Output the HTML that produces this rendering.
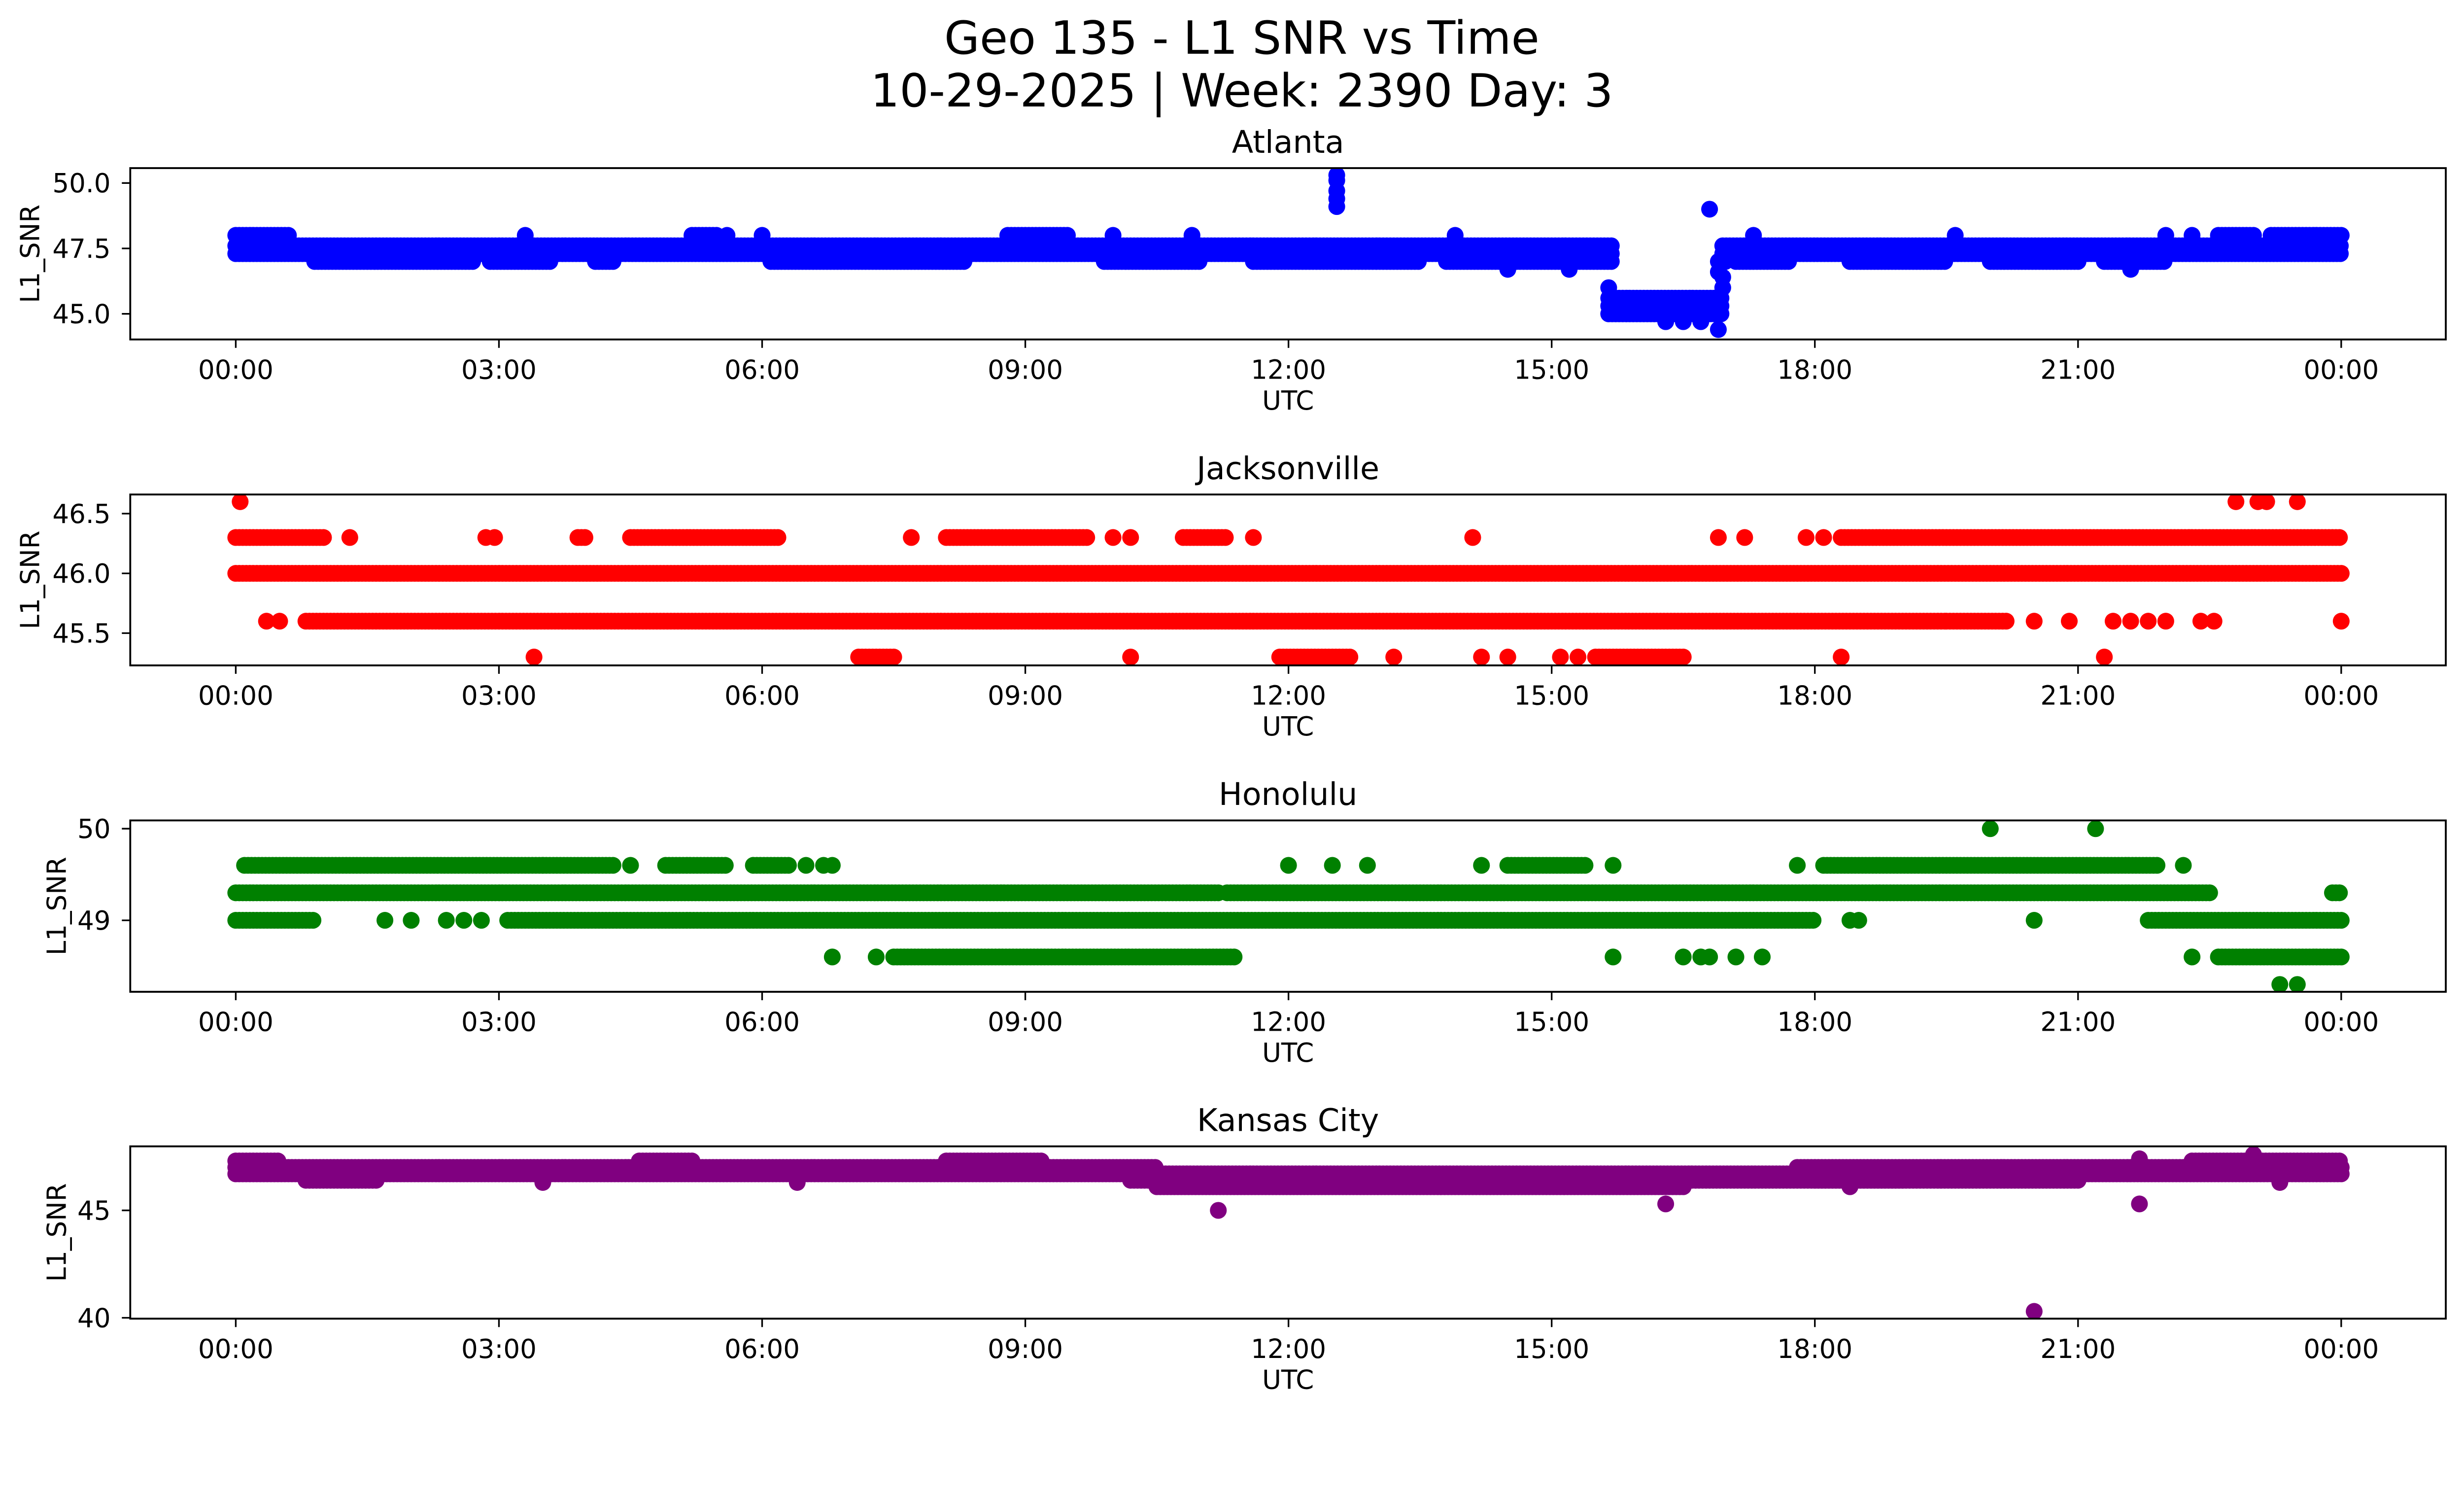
<!DOCTYPE html>
<html><head><meta charset="utf-8"><style>
html,body{margin:0;padding:0;background:#fff;overflow:hidden;}
svg{display:block;width:100vw;height:auto;font-family:"DejaVu Sans","Liberation Sans",sans-serif;}
</style></head><body>
<svg id="fig" viewBox="0 0 5278 3033" xmlns="http://www.w3.org/2000/svg">
<rect width="5278" height="3033" fill="#fff"/>
<text x="2660" y="115" font-size="98" text-anchor="middle">Geo 135 - L1 SNR vs Time</text>
<text x="2660" y="228" font-size="98" text-anchor="middle">10-29-2025 | Week: 2390 Day: 3</text>
<g id="plots"></g>
</svg>
<script>
// ---------- data: x tick labels ----------
const xTickHours = [0,3,6,9,12,15,18,21,24];
const xTickLabels = ["00:00","03:00","06:00","09:00","12:00","15:00","18:00","21:00","00:00"];

// ---------- Atlanta ----------
const atlRunLevel = [47.6,47.3,47.6,47.3,47.0,47.0,47.0,47.0,47.0,47.0,47.0,47.0,47.0,47.0,47.0,48.0,48.0,48.0,48.0,48.0,45.6,45.3,45.0,47.0];
const atlRunStart = [0.0,0.0,16.95,16.95,0.9,2.9,4.1,6.1,9.9,11.6,13.8,17.1,18.4,20.0,21.3,0.0,5.2,8.8,22.6,23.2,15.65,15.65,15.65,16.9];
const atlRunEnd   = [15.7,15.7,24.0,24.0,2.7,3.6,4.3,8.3,11.0,13.5,15.7,17.7,19.5,21.0,22.0,0.6,5.5,9.5,23.0,24.0,16.95,16.95,16.95,17.0];
const atlPtX = [12.55,12.55,12.55,12.55,12.55,16.8,16.9,14.5,15.2,21.6,15.65,16.3,16.5,16.7,16.9,3.3,5.6,6.0,10.0,10.9,13.9,19.6,22.0,22.3,17.3,16.95,16.95];
const atlPtY = [50.3,50.1,49.7,49.4,49.1,49.0,44.4,46.7,46.7,46.7,46.0,44.7,44.7,44.7,46.6,48.0,48.0,48.0,48.0,48.0,48.0,48.0,48.0,48.0,48.0,46.0,46.4];

// ---------- Jacksonville ----------
const jaxRunLevel = [46.0,45.6,45.6,46.3,46.3,46.3,46.3,46.3,46.3,45.3,45.3,45.3];
const jaxRunStart = [0.0,0.8,19.5,0.0,4.5,8.1,10.8,18.3,3.9,11.9,15.5,7.1];
const jaxRunEnd   = [24.0,19.5,20.2,1.0,6.2,9.7,11.3,24.0,4.0,12.7,16.5,7.5];
const jaxPtX = [0.05,22.8,23.05,23.15,23.5,1.3,2.85,2.95,7.7,10.0,10.2,11.6,14.1,16.9,17.2,17.9,18.1,0.35,0.5,20.5,20.9,21.4,21.6,21.8,22.0,22.4,22.55,24.0,3.4,10.2,13.2,14.2,14.5,15.1,15.3,18.3,21.3];
const jaxPtY = [46.6,46.6,46.6,46.6,46.6,46.3,46.3,46.3,46.3,46.3,46.3,46.3,46.3,46.3,46.3,46.3,46.3,45.6,45.6,45.6,45.6,45.6,45.6,45.6,45.6,45.6,45.6,45.6,45.3,45.3,45.3,45.3,45.3,45.3,45.3,45.3,45.3];

// ---------- Honolulu ----------
const hnlRunLevel = [49.3,49.3,49.6,49.6,49.6,49.6,49.6,49.6,49.0,49.0,49.0,48.6,48.6,49.3];
const hnlRunStart = [0.0,11.3,0.1,3.5,4.9,5.9,14.5,18.1,0.0,3.1,21.8,7.5,22.6,23.9];
const hnlRunEnd   = [11.2,22.5,3.5,4.3,5.6,6.3,15.4,21.9,0.9,18.0,24.0,11.4,24.0,24.0];
const hnlPtX = [4.5,6.5,6.7,6.8,12.0,12.5,12.9,14.2,15.7,17.8,22.2,1.7,2.0,2.4,2.6,2.8,18.4,18.5,20.5,6.8,7.3,15.7,16.5,16.7,16.8,17.1,17.4,22.3,20.0,21.2,23.3,23.5];
const hnlPtY = [49.6,49.6,49.6,49.6,49.6,49.6,49.6,49.6,49.6,49.6,49.6,49.0,49.0,49.0,49.0,49.0,49.0,49.0,49.0,48.6,48.6,48.6,48.6,48.6,48.6,48.6,48.6,48.6,50.0,50.0,48.3,48.3];

// ---------- Kansas City ----------
const kcRunLevel = [47.3,47.3,47.3,47.3,47.0,47.0,46.7,46.4,46.4,46.1,46.4];
const kcRunStart = [0.0,4.6,8.1,22.3,0.0,17.8,0.0,0.8,10.2,10.5,18.0];
const kcRunEnd   = [0.5,5.2,9.2,24.0,10.5,24.0,24.0,1.6,19.0,16.5,21.0];
const kcPtX = [11.2,16.3,21.7,20.5,23.0,23.3,21.7,18.4,3.5,6.4];
const kcPtY = [45.0,45.3,45.3,40.3,47.6,46.3,47.4,46.1,46.3,46.3];

// ---------- rendering ----------
const NS = "http://www.w3.org/2000/svg";
const X0 = 279, X1 = 5239, TX0 = 505, TX1 = 5015;
function xScale(h){ return TX0 + (TX1 - TX0) * h / 24; }
function mk(tag, attrs){ const e = document.createElementNS(NS, tag); for (const k in attrs) e.setAttribute(k, attrs[k]); return e; }

const panels = [
  {title:"Atlanta", top:360, bot:727, ymin:44.02, ymax:50.57, color:"#0000ff", yt:[45,47.5,50], ytl:["45.0","47.5","50.0"], ylx:64,
   rl:atlRunLevel, rs:atlRunStart, re:atlRunEnd, px:atlPtX, py:atlPtY},
  {title:"Jacksonville", top:1059, bot:1425, ymin:45.23, ymax:46.66, color:"#ff0000", yt:[45.5,46,46.5], ytl:["45.5","46.0","46.5"], ylx:64,
   rl:jaxRunLevel, rs:jaxRunStart, re:jaxRunEnd, px:jaxPtX, py:jaxPtY},
  {title:"Honolulu", top:1757, bot:2124, ymin:48.22, ymax:50.09, color:"#008000", yt:[49,50], ytl:["49","50"], ylx:121,
   rl:hnlRunLevel, rs:hnlRunStart, re:hnlRunEnd, px:hnlPtX, py:hnlPtY},
  {title:"Kansas City", top:2455, bot:2824, ymin:39.96, ymax:47.98, color:"#800080", yt:[40,45], ytl:["40","45"], ylx:121,
   rl:kcRunLevel, rs:kcRunStart, re:kcRunEnd, px:kcPtX, py:kcPtY}
];

const root = document.getElementById("plots");
panels.forEach((p, pi) => {
  const slug = p.title.toLowerCase().replace(/ /g, "-");
  const g = mk("g", {});
  
  
  root.appendChild(g);
  const yScale = v => p.bot - (v - p.ymin) / (p.ymax - p.ymin) * (p.bot - p.top);
  const clipId = "clip" + pi;
  const cp = mk("clipPath", {id: clipId});
  cp.appendChild(mk("rect", {x: X0, y: p.top, width: X1 - X0, height: p.bot - p.top}));
  g.appendChild(cp);
  const pts = mk("g", {fill: p.color, "clip-path": "url(#" + clipId + ")"});
  
  
  g.appendChild(pts);
  for (let i = 0; i < p.rl.length; i++) {
    const cy = yScale(p.rl[i]);
    for (let h = p.rs[i]; h <= p.re[i] + 1e-9; h += 0.04) {
      const c = mk("circle", {cx: xScale(h).toFixed(1), cy: cy.toFixed(1), r: 18});
      
      
      pts.appendChild(c);
    }
  }
  for (let i = 0; i < p.px.length; i++) {
    const c = mk("circle", {cx: xScale(p.px[i]).toFixed(1), cy: yScale(p.py[i]).toFixed(1), r: 18});
    
    
    pts.appendChild(c);
  }
  const frame = mk("rect", {x: X0, y: p.top, width: X1 - X0, height: p.bot - p.top, fill: "none", stroke: "#000", "stroke-width": 4});
  
  
  g.appendChild(frame);
  xTickHours.forEach((h, i) => {
    const x = xScale(h);
    const t = mk("line", {x1: x, x2: x, y1: p.bot, y2: p.bot + 18, stroke: "#000", "stroke-width": 3.5});
    
    
    g.appendChild(t);
    const l = mk("text", {x: x, y: p.bot + 84, "font-size": 56, "text-anchor": "middle"});
    l.textContent = xTickLabels[i];
    
    
    g.appendChild(l);
  });
  p.yt.forEach((v, i) => {
    const y = yScale(v);
    const t = mk("line", {x1: X0 - 18, x2: X0, y1: y, y2: y, stroke: "#000", "stroke-width": 3.5});
    
    
    g.appendChild(t);
    const l = mk("text", {x: 237, y: y + 20, "font-size": 56, "text-anchor": "end"});
    l.textContent = p.ytl[i];
    
    
    g.appendChild(l);
  });
  const xl = mk("text", {x: (X0 + X1) / 2, y: p.bot + 150, "font-size": 56, "text-anchor": "middle"});
  xl.textContent = "UTC";
  
  
  g.appendChild(xl);
  const cy = (p.top + p.bot) / 2;
  const yl = mk("text", {x: p.ylx + 20, y: cy, "font-size": 56, "text-anchor": "middle", transform: "rotate(-90 " + (p.ylx + 20) + " " + cy + ")"});
  yl.textContent = "L1_SNR";
  
  
  g.appendChild(yl);
  const tt = mk("text", {x: (X0 + X1) / 2, y: p.top - 33, "font-size": 67, "text-anchor": "middle"});
  tt.textContent = p.title;
  
  
  g.appendChild(tt);
});
</script>
</body></html>
